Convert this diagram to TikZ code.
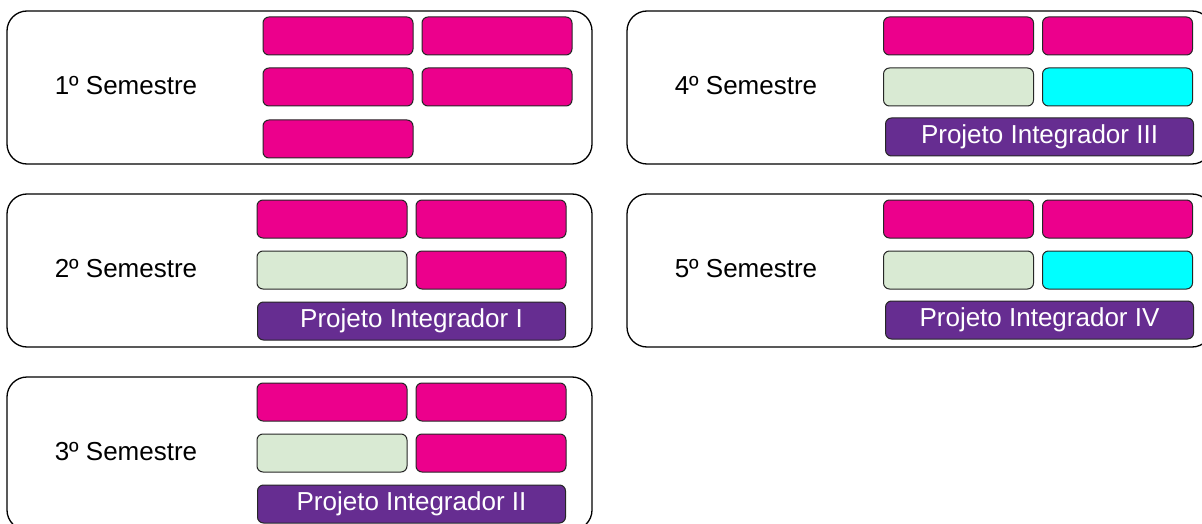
\documentclass[tikz,border=0pt]{standalone}
\usepackage{fontspec}
\setmainfont{Liberation Sans}
\usepackage{tikz}
\usetikzlibrary{positioning}
\definecolor{discmag}{HTML}{EC008C}
\definecolor{discgreen}{HTML}{D9EAD3}
\definecolor{disccyan}{HTML}{00FFFF}
\definecolor{projpurple}{HTML}{662D91}
\tikzset{
    semestre/.style={draw=black, line width=1.3pt, rounded corners=20pt,
        minimum width=585pt, minimum height=153pt, inner sep=0pt},
    seminfo/.style={font=\fontsize{26}{30}\selectfont, inner sep=0pt},
    disc/.style={draw=black!85, line width=1pt, rounded corners=6pt,
        minimum width=150pt, minimum height=38pt, inner sep=0pt},
    obrig/.style={disc, fill=discmag},
    optat/.style={disc, fill=discgreen},
    eletiva/.style={disc, fill=disccyan},
    projeto/.style={disc, fill=projpurple, text=white, minimum width=308pt,
        font=\fontsize{26}{30}\selectfont},
}
\begin{document}
\begin{tikzpicture}[x=1pt, y=-1pt]
    \useasboundingbox (0,0) rectangle (1202,524);
    % caixas dos semestres
    \node[semestre] (s1) at (299.5,87.5) {};
    \node[semestre] (s2) at (299.5,270.5) {};
    \node[semestre] (s3) at (299.5,453.5) {};
    \node[semestre] (s4) at (919.5,87.5) {};
    \node[semestre] (s5) at (919.5,270.5) {};
    \node[seminfo] (t1) at (126,86) {1º Semestre};
    \node[seminfo] (t2) at (126,269) {2º Semestre};
    \node[seminfo] (t3) at (126,452) {3º Semestre};
    \node[seminfo] (t4) at (746,86) {4º Semestre};
    \node[seminfo] (t5) at (746,269) {5º Semestre};
    % 1o semestre
    \node[obrig] (d1a) at (338,36) {};
    \node[obrig] (d1b) at (497,36) {};
    \node[obrig] (d1c) at (338,87) {};
    \node[obrig] (d1d) at (497,87) {};
    \node[obrig] (d1e) at (338,139) {};
    % 2o e 3o semestres
    \foreach \s/\y/\p in {2/219/I, 3/402/II} {
        \node[obrig] (d\s a) at (332,\y) {};
        \node[obrig] (d\s b) at (491,\y) {};
        \node[optat] (d\s c) at (332,\y+51) {};
        \node[obrig] (d\s d) at (491,\y+51) {};
        \node[projeto] (p\s) at (411.5,\y+102) {Projeto Integrador \p};
    }
    % 4o e 5o semestres
    \foreach \s/\y/\p in {4/36/III, 5/219/IV} {
        \node[obrig] (d\s a) at (958.5,\y) {};
        \node[obrig] (d\s b) at (1117.5,\y) {};
        \node[optat] (d\s c) at (958.5,\y+51) {};
        \node[eletiva] (d\s d) at (1117.5,\y+51) {};
        \node[projeto] (p\s) at (1039.5,\y+101) {Projeto Integrador \p};
    }
\end{tikzpicture}
\end{document}
